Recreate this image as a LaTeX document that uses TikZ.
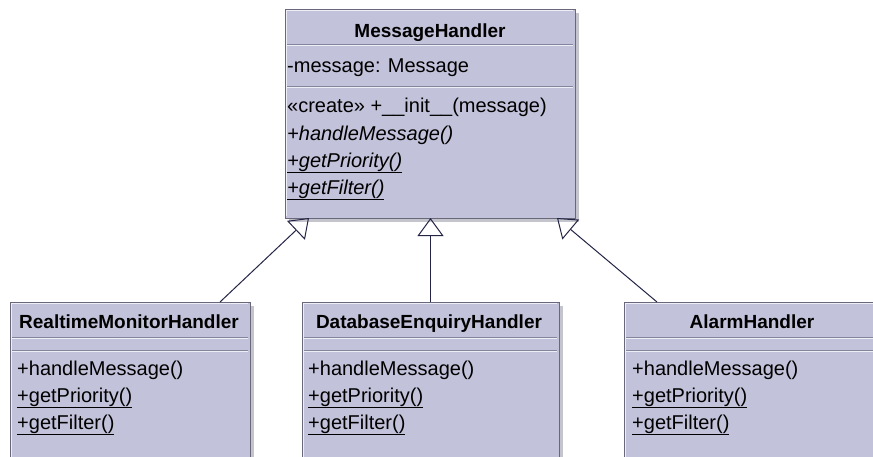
\documentclass[tikz,border=0pt]{standalone}
\usepackage{fontspec}
\setmainfont{Liberation Sans}
\usetikzlibrary{arrows.meta,calc,shadows}

\definecolor{boxfill}{RGB}{194,194,218}
\definecolor{boxedge}{RGB}{104,104,122}
\definecolor{boxlight}{RGB}{238,238,246}
\definecolor{sepdark}{RGB}{132,132,156}
\definecolor{shade}{RGB}{196,196,204}
\definecolor{linkcol}{RGB}{36,36,70}

% light highlight along the top and left edges of a class box
\newcommand\classframe[1]{%
  \draw[boxlight, line width=1.2pt]
    ([shift={(1.6,-1.6)}]#1.south west) -- ([shift={(1.6,1.6)}]#1.north west)
    -- ([shift={(-1.6,1.6)}]#1.north east);}
% compartment separator: dark rule with a light rule beneath
\newcommand\compsep[3]{%
  \draw[sepdark, line width=1pt] (#1,#3) -- (#2,#3);
  \draw[boxlight, line width=1pt] (#1,#3+1.5) -- (#2,#3+1.5);}

\begin{document}
\begin{tikzpicture}[x=1pt,y=-1pt,
  classbox/.style={draw=boxedge, fill=boxfill, line width=1pt, anchor=north west,
    inner sep=0pt, outer sep=0pt,
    drop shadow={shadow xshift=3.5pt, shadow yshift=-3.5pt, fill=shade, opacity=1}},
  classname/.style={font=\fontsize{19}{22}\selectfont\bfseries, anchor=base, inner sep=0pt},
  member/.style={font=\fontsize{20}{24}\selectfont, anchor=base west, inner sep=0pt},
  inherit/.style={draw=linkcol, line width=1pt,
    -{Triangle[open, length=18pt, width=26pt, line width=1pt]}}
]
\useasboundingbox (0,0) rectangle (873,456);
\fill[white] (0,0) rectangle (873,456);
\clip (0,0) rectangle (873,456);

% class boxes
\node[classbox, minimum width=290pt, minimum height=209pt] (mh) at (285,9) {};
\node[classbox, minimum width=240pt, minimum height=170pt] (rt) at (10,302) {};
\node[classbox, minimum width=257pt, minimum height=170pt] (db) at (302,302) {};
\node[classbox, minimum width=256pt, minimum height=170pt] (al) at (624,302) {};
\classframe{mh}\classframe{rt}\classframe{db}\classframe{al}

% compartments
\compsep{287}{573}{44}
\compsep{287}{573}{86}
\foreach \xa/\xb in {12/248, 304/557, 626/873}{
  \compsep{\xa}{\xb}{337}
  \compsep{\xa}{\xb}{350}
}

% MessageHandler
\node[classname] (mhname) at (430,37) {MessageHandler};
\node[member] (mhattr) at (287,72) {-message: Message};
\node[member] (mhinit) at (287,112) {«create» +\_\_init\_\_(message)};
\node[member] (mhhandle) at (287,140) {\itshape +handleMessage()};
\node[member] (mhprio) at (287,167) {\underline{\itshape +getPriority()}};
\node[member] (mhfilter) at (287,194) {\underline{\itshape +getFilter()}};

% RealtimeMonitorHandler
\node[classname] (rtname) at (129,328) {RealtimeMonitorHandler};
\node[member] (rthandle) at (17,375) {+handleMessage()};
\node[member] (rtprio) at (17,402) {\underline{+getPriority()}};
\node[member] (rtfilter) at (17,429) {\underline{+getFilter()}};

% DatabaseEnquiryHandler
\node[classname] (dbname) at (429,328) {DatabaseEnquiryHandler};
\node[member] (dbhandle) at (308,375) {+handleMessage()};
\node[member] (dbprio) at (308,402) {\underline{+getPriority()}};
\node[member] (dbfilter) at (308,429) {\underline{+getFilter()}};

% AlarmHandler
\node[classname] (alname) at (752,328) {AlarmHandler};
\node[member] (alhandle) at (632,375) {+handleMessage()};
\node[member] (alprio) at (632,402) {\underline{+getPriority()}};
\node[member] (alfilter) at (632,429) {\underline{+getFilter()}};

% generalisations
\draw[inherit] ([xshift=210pt]rt.north west) -- ([xshift=24pt]mh.south west);
\draw[inherit, line width=1.4pt] (db.north) -- (db.north |- mh.south);
\draw[inherit] ([xshift=33pt]al.north west) -- ([xshift=-18pt]mh.south east);
\end{tikzpicture}
\end{document}
